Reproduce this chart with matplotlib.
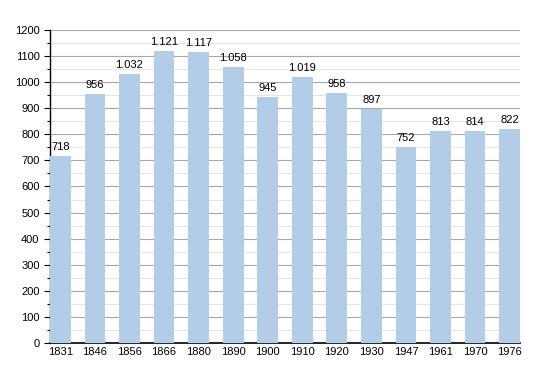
import numpy as np
import matplotlib
matplotlib.use('Agg')
from matplotlib import pyplot as plt
from matplotlib.ticker import MultipleLocator

plt.rcParams['font.family'] = ['Liberation Sans', 'DejaVu Sans']

years = ['1831', '1846', '1856', '1866', '1880', '1890', '1900',
         '1910', '1920', '1930', '1947', '1961', '1970', '1976']
population = [718, 956, 1032, 1121, 1117, 1058, 945,
              1019, 958, 897, 752, 813, 814, 822]

BAR_COLOR = '#b3cde8'

fig = plt.figure(figsize=(5.5, 3.73), dpi=100)
ax = fig.add_axes([50/550, 30/373, 470/550, 313/373])

x = np.arange(len(years))
ax.bar(x, population, width=0.6, color=BAR_COLOR, zorder=3)

for xi, v in zip(x, population):
    lab = f'{v:,}'.replace(',', '.')
    ax.text(xi, v + 15, lab, ha='center', va='bottom', fontsize=8, zorder=4)

ax.set_xlim(-0.3, len(years) - 0.7)
ax.set_ylim(0, 1200)
ax.set_xticks(x)
ax.set_xticklabels(years, fontsize=8)
ax.yaxis.set_major_locator(MultipleLocator(100))
ax.yaxis.set_minor_locator(MultipleLocator(50))
ax.tick_params(axis='y', which='major', labelsize=8, length=4, width=0.8)
ax.tick_params(axis='y', which='minor', length=2, width=0.8)
ax.tick_params(axis='x', length=0, pad=3)

ax.grid(True, axis='y', which='major', color='#a8a8a8', linewidth=0.8, zorder=0)
ax.grid(True, axis='y', which='minor', color='#e4e4e4', linewidth=0.8, zorder=0)

for side in ['top', 'right']:
    ax.spines[side].set_visible(False)
ax.spines['left'].set_linewidth(1.0)
ax.spines['bottom'].set_linewidth(1.2)

fig.savefig('out.png', dpi=100)
